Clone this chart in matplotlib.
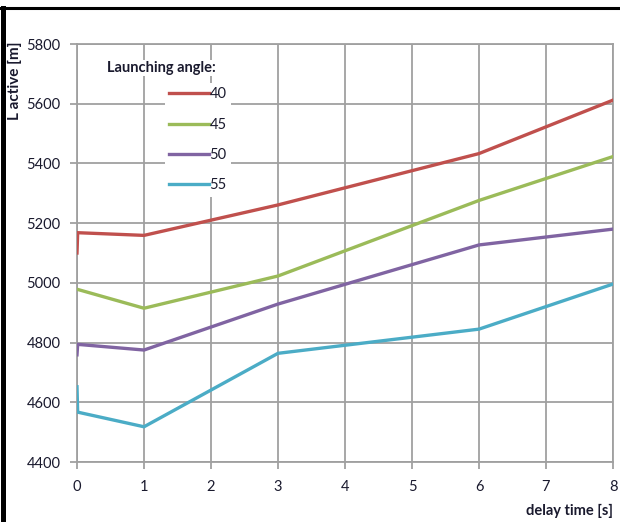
import matplotlib
matplotlib.use("Agg")
import matplotlib.pyplot as plt
from matplotlib.lines import Line2D

plt.rcParams['font.family'] = ['Lato', 'DejaVu Sans']

# delay time samples (two readings at t = 0)
delay = [0, 0.01, 1, 3, 6, 8]
angles = ["40", "45", "50", "55"]
l_active_40 = [5100, 5168, 5159, 5261, 5433, 5612]
l_active_45 = [4978, 4978, 4915, 5023, 5276, 5423]
l_active_50 = [4759, 4794, 4775, 4929, 5127, 5180]
l_active_55 = [4652, 4567, 4518, 4764, 4845, 4996]
series = [l_active_40, l_active_45, l_active_50, l_active_55]
colors = ["#C0504D", "#9BBB59", "#8064A2", "#4BACC6"]

x_ticks = list(range(0, 9))
y_ticks = list(range(4400, 5801, 200))

W, H = 620, 522
fig = plt.figure(figsize=(W / 100, H / 100), dpi=100)
ax = fig.add_axes([77 / W, 1 - 462 / H, (613 - 77) / W, (462 - 44) / H])

grid_c = "#A0A0A0"
for y in y_ticks:
    ax.axhline(y, color=grid_c, lw=1.3, zorder=1)
for x in x_ticks:
    ax.axvline(x, color=grid_c, lw=1.3, zorder=1)

handles = []
for vals, c, lab in zip(series, colors, angles):
    h, = ax.plot(delay, vals, color=c, lw=2.4, label=lab, zorder=3,
                 solid_joinstyle="miter")
    handles.append(h)

ax.set_xlim(0, 8)
ax.set_ylim(4400, 5800)
ax.set_xticks(x_ticks)
ax.set_yticks(y_ticks)
for s in ax.spines.values():
    s.set_color(grid_c)
    s.set_linewidth(1.3)
ax.tick_params(axis="both", colors=grid_c, length=5, width=1.3,
               labelcolor="#1a1a2e", labelsize=10.5)
ax.tick_params(axis="x", pad=8)
ax.tick_params(axis="y", pad=7)

ax.set_xlabel("delay time [s]", fontsize=10.5, fontweight="bold", color="#1a1a2e")
ax.xaxis.set_label_coords(1.0, -0.1)
ax.xaxis.label.set_horizontalalignment("right")

fig.text(15 / W, 1 - 41 / H, "L active [m]", rotation=90, fontsize=11,
         fontweight="bold", color="#1a1a2e", ha="center", va="top")

leg = ax.legend(handles=handles, labels=angles, loc="upper left",
                bbox_to_anchor=((165 - 77) / (613 - 77), 1 - (83 - 44) / (462 - 44)),
                frameon=True, facecolor="white", edgecolor="none", framealpha=1,
                fontsize=10.5, handlelength=2.7, handletextpad=0.05,
                labelspacing=1.12, borderpad=0.3, borderaxespad=0)
for t in leg.get_texts():
    t.set_color("#1a1a2e")
leg.set_zorder(5)

fig.text(107 / W, 1 - 68 / H, "Launching angle:", fontsize=10.5,
         fontweight="bold", color="#1a1a2e", ha="left", va="center",
         bbox=dict(facecolor="white", edgecolor="none", pad=1))

# outer frame
fig.add_artist(Line2D([2.5 / W, 2.5 / W], [0, 1 - 8 / H], color="black",
                      lw=3.6, transform=fig.transFigure))
fig.add_artist(Line2D([0, 1], [1 - 8 / H, 1 - 8 / H], color="black",
                      lw=2.2, transform=fig.transFigure))

fig.savefig("out.png", dpi=100)
